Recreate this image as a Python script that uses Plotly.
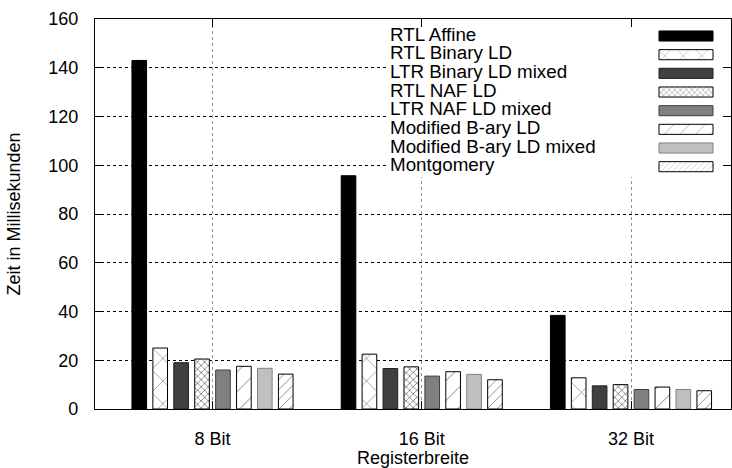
import plotly.graph_objects as go

# ---- data ----
categories = ["8 Bit", "16 Bit", "32 Bit"]
series_names = [
    "RTL Affine",
    "RTL Binary LD",
    "LTR Binary LD mixed",
    "RTL NAF LD",
    "LTR NAF LD mixed",
    "Modified B-ary LD",
    "Modified B-ary LD mixed",
    "Montgomery",
]
rtl_affine = [143.0, 95.7, 38.4]
rtl_binary_ld = [25.0, 22.5, 12.8]
ltr_binary_ld_mixed = [19.0, 16.6, 9.5]
rtl_naf_ld = [20.5, 17.3, 10.0]
ltr_naf_ld_mixed = [16.0, 13.5, 8.0]
modified_bary_ld = [17.5, 15.3, 9.0]
modified_bary_ld_mixed = [16.7, 14.2, 8.0]
montgomery = [14.3, 12.0, 7.5]
series_values = [rtl_affine, rtl_binary_ld, ltr_binary_ld_mixed, rtl_naf_ld,
                 ltr_naf_ld_mixed, modified_bary_ld, modified_bary_ld_mixed, montgomery]
y_ticks = [0, 20, 40, 60, 80, 100, 120, 140, 160]

# ---- styles ----
fill_colors = ["#000000", "#ffffff", "#404040", "#ffffff", "#808080", "#ffffff", "#c0c0c0", "#ffffff"]
line_colors = ["#000000", "#000000", "#202020", "#000000", "#404040", "#000000", "#808080", "#000000"]
pat_shapes = ["", "x", "", "x", "", "/", "", "/"]
pat_sizes = [8, 16, 8, 5, 8, 14, 8, 7]
pat_solid = [0.3, 0.08, 0.3, 0.3, 0.3, 0.07, 0.3, 0.12]

FONT = "Liberation Sans, Arial, sans-serif"
FS = 18
KEY_FS = 18.8
W, H = 732, 468
ML, MR, MT, MB = 95, 1, 19, 59
PLOT_W = W - ML - MR
PLOT_H = H - MT - MB

fig = go.Figure()

for i, name in enumerate(series_names):
    fig.add_trace(go.Bar(
        x=categories, y=series_values[i], name=name, showlegend=False,
        marker=dict(
            color=fill_colors[i],
            line=dict(color=line_colors[i], width=1),
            pattern=dict(shape=pat_shapes[i], fgcolor="#000000", bgcolor=fill_colors[i],
                         size=pat_sizes[i], solidity=pat_solid[i], fillmode="overlay"),
        ),
    ))

# ---- key (text left, swatch right, like gnuplot), drawn on an overlay axis pair ----
key_text_x = 390
key_sw_x0, key_sw_len = 659, 54
row0_px, row_step = 36, 18.67
rows = list(range(len(series_names)))
box_top = (24 - row0_px) / row_step
box_bot = (177 - row0_px) / row_step
box_x0, box_x1 = 386, 724

# opaque key background
fig.add_trace(go.Bar(
    orientation="h", y=[(box_top + box_bot) / 2], x=[box_x1 - box_x0], base=box_x0,
    width=box_bot - box_top, offset=-(box_bot - box_top) / 2,
    xaxis="x2", yaxis="y2", showlegend=False, hoverinfo="skip",
    marker=dict(color="#ffffff", line=dict(width=0)),
))
# swatches
fig.add_trace(go.Bar(
    orientation="h", y=rows, x=[key_sw_len] * len(series_names),
    base=key_sw_x0, width=0.54, offset=-0.27, xaxis="x2", yaxis="y2", showlegend=False,
    marker=dict(
        color=fill_colors, line=dict(color=line_colors, width=1),
        pattern=dict(shape=pat_shapes, fgcolor="#000000", bgcolor=fill_colors,
                     size=[max(4, s - 3) for s in pat_sizes], solidity=pat_solid, fillmode="overlay"),
    ),
    hoverinfo="skip",
))
# key texts
fig.add_trace(go.Scatter(
    x=[key_text_x] * len(series_names), y=rows, mode="text",
    text=series_names, textposition="middle right", xaxis="x2", yaxis="y2",
    textfont=dict(family=FONT, size=KEY_FS, color="#000000"), showlegend=False, hoverinfo="skip",
))

top_rows = (row0_px - MT) / row_step
bot_rows = (MT + PLOT_H - row0_px) / row_step

xr0 = (ML - 212.5) / 209.25
xr1 = (ML + PLOT_W - 212.5) / 209.25

fig.update_layout(
    width=W, height=H,
    margin=dict(l=ML, r=MR, t=MT, b=MB),
    paper_bgcolor="#ffffff", plot_bgcolor="#ffffff",
    barmode="group", bargap=0.2, bargroupgap=0.3,
    font=dict(family=FONT, size=FS, color="#000000"),
    xaxis=dict(
        type="category", range=[xr0, xr1],
        showline=True, linecolor="#000000", linewidth=1.2, mirror="ticks",
        ticks="inside", ticklen=8, tickcolor="#000000", tickwidth=1.2,
        showgrid=True, gridcolor="#909090", griddash="dot", gridwidth=1,
        ticklabelstandoff=13,
        title=dict(text="Registerbreite", standoff=1, font=dict(size=FS)),
        zeroline=False,
    ),
    yaxis=dict(
        range=[0, 160], tickvals=y_ticks,
        showline=True, linecolor="#000000", linewidth=1.2, mirror="ticks",
        ticks="inside", ticklen=8, tickcolor="#000000", tickwidth=1.2,
        showgrid=True, gridcolor="#000000", griddash="dot", gridwidth=1,
        ticklabelstandoff=12,
        title=dict(text="Zeit in Millisekunden", standoff=22, font=dict(size=FS)),
        zeroline=False,
    ),
    xaxis2=dict(overlaying="x", range=[ML, ML + PLOT_W], visible=False, fixedrange=True,
                showgrid=False, zeroline=False),
    yaxis2=dict(overlaying="y", range=[bot_rows, -top_rows], visible=False, fixedrange=True,
                showgrid=False, zeroline=False),
)

fig.write_html("out.html", post_script="document.body.style.margin='0';",
               config={"displayModeBar": False})
